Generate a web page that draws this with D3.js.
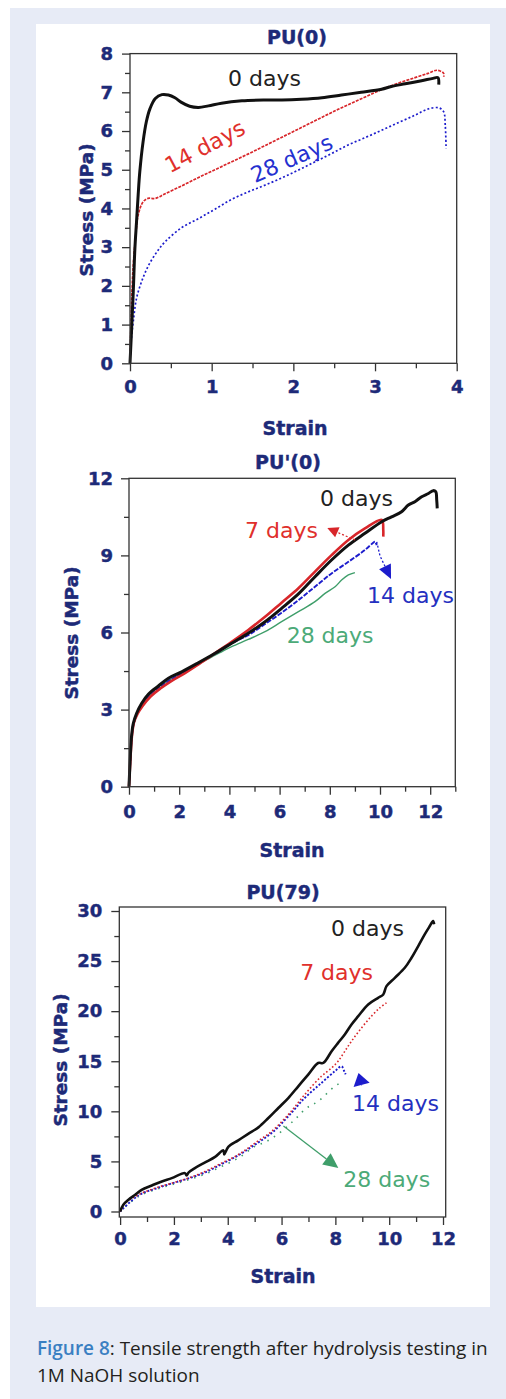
<!DOCTYPE html>
<html lang="en">
<head>
  <meta charset="UTF-8"/>
  <title>Tensile strength after hydrolysis</title>
  <script src="https://d3js.org/d3.v7.min.js"></script>
</head>
<body>
  <svg id="fig" width="506" height="1399"></svg>
<style>
html, body { margin: 0; padding: 0; background: #fff; }
svg { display: block; }
.tick text { font-family: 'DejaVu Sans', sans-serif; font-weight: bold; font-size: 18px; fill: #1d2a78; stroke: #1d2a78; stroke-width: 0.45; }
.tick line { stroke: #333; stroke-width: 1.3; }
.domain { display: none; }
text.title, text.xlabel, text.ylabel { font-family: 'DejaVu Sans', sans-serif; font-weight: bold; fill: #1d2a78; stroke: #1d2a78; stroke-width: 0.45; }
text.title { font-size: 19px; }
text.xlabel { font-size: 19px; }
text.ylabel { font-size: 18.5px; }
text.note { font-family: 'DejaVu Sans', sans-serif; font-size: 22px; }
text.caption { font-family: 'Open Sans', sans-serif; fill: #231f20; }
</style>
<script>
// ---- PU(0) ----
const pu0XTicks = [0, 1, 2, 3, 4];
const pu0XMinor = [0.5, 1.5, 2.5, 3.5];
const pu0YTicks = [0, 1, 2, 3, 4, 5, 6, 7, 8];
const pu0YMinor = [0.5, 1.5, 2.5, 3.5, 4.5, 5.5, 6.5, 7.5];
const pu0Day0 = [[0,0],[0.02,0.9],[0.04,1.85],[0.06,2.97],[0.08,3.66],[0.1,4.35],[0.12,4.95],[0.16,5.72],[0.2,6.24],[0.245,6.58],[0.31,6.84],[0.39,6.94],[0.47,6.93],[0.55,6.86],[0.63,6.74],[0.73,6.64],[0.84,6.61],[0.96,6.65],[1.12,6.72],[1.37,6.78],[1.65,6.8],[1.86,6.8],[2.1,6.82],[2.35,6.86],[2.59,6.93],[2.83,7.0],[3.08,7.08],[3.2,7.15],[3.37,7.22],[3.57,7.3],[3.71,7.36],[3.77,7.38],[3.78,7.2]];
const pu0Day14 = [[0,0],[0.02,1.6],[0.04,2.54],[0.07,3.3],[0.1,3.83],[0.16,4.17],[0.22,4.26],[0.31,4.26],[0.43,4.38],[0.63,4.58],[0.84,4.8],[1.04,5.0],[1.24,5.2],[1.45,5.41],[1.65,5.62],[1.86,5.84],[2.06,6.05],[2.27,6.27],[2.47,6.48],[2.67,6.68],[2.88,6.88],[3.08,7.07],[3.29,7.24],[3.49,7.38],[3.65,7.49],[3.76,7.57],[3.84,7.49],[3.84,7.4]];
const pu0Day28 = [[0,0],[0.01,0.47],[0.04,1.08],[0.08,1.68],[0.14,2.1],[0.22,2.5],[0.33,2.88],[0.43,3.14],[0.63,3.5],[0.84,3.74],[1.04,3.98],[1.24,4.23],[1.45,4.43],[1.65,4.6],[1.86,4.79],[2.06,4.99],[2.27,5.21],[2.47,5.42],[2.67,5.64],[2.88,5.83],[3.08,6.02],[3.29,6.22],[3.49,6.41],[3.65,6.57],[3.78,6.6],[3.84,6.5],[3.86,6.15],[3.87,5.55]];

// ---- PU'(0) ----
const puPXTicks = [0, 2, 4, 6, 8, 10, 12];
const puPXMinor = [1, 3, 5, 7, 9, 11, 13];
const puPYTicks = [0, 3, 6, 9, 12];
const puPYMinor = [1.5, 4.5, 7.5, 10.5];
const puPDay0 = [[0,0],[0.04,0.91],[0.1,1.95],[0.17,2.46],[0.3,2.85],[0.5,3.24],[0.77,3.6],[1.17,3.92],[1.57,4.22],[2.1,4.47],[2.76,4.82],[3.43,5.19],[4.09,5.58],[4.75,5.97],[5.42,6.42],[6.08,6.94],[6.75,7.5],[7.41,8.17],[8.07,8.82],[8.74,9.4],[9.4,9.86],[10.07,10.31],[10.46,10.5],[10.86,10.7],[11.13,10.96],[11.39,11.09],[11.66,11.28],[11.93,11.41],[12.12,11.52],[12.22,11.48],[12.26,11.15],[12.28,10.83]];
const puPDay7 = [[0,0],[0.05,0.95],[0.12,2.0],[0.2,2.5],[0.35,2.85],[0.55,3.15],[0.85,3.5],[1.25,3.82],[1.7,4.12],[2.2,4.4],[2.8,4.78],[3.43,5.2],[4.09,5.64],[4.75,6.1],[5.42,6.61],[6.08,7.16],[6.75,7.72],[7.41,8.37],[8.07,9.01],[8.74,9.6],[9.4,10.05],[10.07,10.38],[10.13,9.99],[10.13,9.73]];
const puPDay14 = [[0,0],[0.05,0.95],[0.12,2.05],[0.2,2.5],[0.35,2.88],[0.55,3.2],[0.85,3.55],[1.25,3.88],[1.7,4.18],[2.2,4.45],[2.8,4.8],[3.43,5.18],[4.09,5.58],[4.75,5.9],[5.42,6.33],[6.08,6.77],[6.75,7.26],[7.41,7.78],[8.07,8.3],[8.74,8.75],[9.4,9.21],[9.73,9.49],[9.8,9.53],[9.87,9.4]];
const puPDay28 = [[0,0],[0.05,1.0],[0.12,2.1],[0.2,2.55],[0.35,2.92],[0.55,3.25],[0.85,3.6],[1.25,3.93],[1.7,4.2],[2.2,4.46],[2.8,4.78],[3.43,5.12],[3.69,5.25],[4.09,5.45],[4.75,5.73],[5.42,6.03],[6.08,6.42],[6.75,6.81],[7.41,7.2],[7.81,7.52],[8.21,7.78],[8.47,8.04],[8.74,8.24],[9.0,8.33]];

// ---- PU(79) ----
const pu79XTicks = [0, 2, 4, 6, 8, 10, 12];
const pu79XMinor = [1, 3, 5, 7, 9, 11];
const pu79YTicks = [0, 5, 10, 15, 20, 25, 30];
const pu79YMinor = [2.5, 7.5, 12.5, 17.5, 22.5, 27.5];
const pu79Day0 = [[0,0],[0.12,0.67],[0.31,1.17],[0.56,1.67],[0.8,2.17],[1.18,2.6],[1.55,3.0],[1.92,3.33],[2.41,3.83],[2.47,3.6],[2.55,3.9],[2.78,4.33],[3.16,4.9],[3.53,5.45],[3.84,6.1],[3.87,5.7],[4.02,6.45],[4.39,7.1],[4.76,7.75],[5.14,8.4],[5.51,9.33],[5.88,10.33],[6.25,11.33],[6.62,12.5],[6.99,13.67],[7.36,14.83],[7.55,14.83],[7.86,16.0],[8.1,16.83],[8.35,17.67],[8.6,18.67],[8.85,19.5],[9.22,20.67],[9.59,21.33],[9.78,21.67],[9.9,22.5],[10.21,23.33],[10.58,24.33],[10.83,25.33],[11.08,26.5],[11.32,27.67],[11.51,28.5],[11.63,29.0],[11.67,28.67]];
const pu79Day7 = [[0,0],[0.19,0.83],[0.68,1.67],[1.3,2.33],[1.92,2.83],[2.54,3.33],[3.16,4.0],[3.77,4.83],[4.39,5.67],[5.01,6.83],[5.63,8.0],[6.25,9.67],[6.86,11.67],[7.48,13.5],[7.86,14.33],[8.1,15.0],[8.35,16.0],[8.6,17.0],[8.97,18.33],[9.34,19.5],[9.65,20.33],[9.9,20.83]];
const pu79Day14 = [[0,0],[0.68,1.6],[1.3,2.27],[1.92,2.8],[2.54,3.3],[3.16,3.9],[3.77,4.73],[4.39,5.6],[5.01,6.67],[5.63,7.83],[6.25,9.5],[6.86,11.33],[7.48,12.83],[7.98,14.0],[8.23,14.5],[8.33,14.0],[8.38,13.7]];
const pu79Day28 = [[0,0],[0.68,1.5],[1.3,2.17],[1.92,2.67],[2.54,3.17],[3.16,3.73],[3.77,4.5],[4.39,5.33],[5.01,6.5],[5.45,7.0],[6.0,8.0],[6.5,9.2],[6.93,10.33],[7.36,11.0],[7.98,12.5],[8.29,13.0]];

const BLACK = '#111', RED = '#d8262a', BLUE = '#1c1ccc', GREEN = '#3f9e6a';

const svg = d3.select('#fig');
svg.append('rect').attr('x', 0).attr('y', 0).attr('width', 506).attr('height', 1399).attr('fill', '#fff');
svg.append('rect').attr('x', 10).attr('y', 8).attr('width', 496).attr('height', 1391).attr('fill', '#e7ebf6');
svg.append('rect').attr('x', 36).attr('y', 24).attr('width', 454).attr('height', 1283).attr('fill', '#fff');

const panels = [
  {
    title: 'PU(0)', titleX: 297, titleY: 44, xLabelX: 295, xLabelY: 435, yLabelX: 86, yLabelY: 210,
    xRange: [130, 456.7], yRange: [363.3, 53.6], xDom: [0, 4], yDom: [0, 8], xPad: 9, yPad: 9,
    xTicks: pu0XTicks, xMinor: pu0XMinor, yTicks: pu0YTicks, yMinor: pu0YMinor,
    series: [
      {data: pu0Day28, color: BLUE, width: 1.7, dash: '2 2.2'},
      {data: pu0Day14, color: RED, width: 1.7, dash: '3 1.2'},
      {data: pu0Day0, color: BLACK, width: 3, dash: null}
    ],
    notes: [
      {text: '0 days', at: [1.2, 7.17], color: '#222', rot: 0},
      {text: '14 days', at: [0.49, 4.9], color: '#e0302c', rot: -28},
      {text: '28 days', at: [1.53, 4.65], color: '#2430d0', rot: -24}
    ],
    arrows: []
  },
  {
    title: "PU'(0)", titleX: 288, titleY: 469, xLabelX: 292, xLabelY: 857, yLabelX: 71, yLabelY: 633,
    xRange: [129, 455.3], yRange: [786.7, 478.3], xDom: [0, 13], yDom: [0, 12], xPad: 10.5, yPad: 8,
    xTicks: puPXTicks, xMinor: puPXMinor, yTicks: puPYTicks, yMinor: puPYMinor,
    series: [
      {data: puPDay28, color: GREEN, width: 1.4, dash: null},
      {data: puPDay14, color: BLUE, width: 1.9, dash: '5 1.5'},
      {data: puPDay7, color: RED, width: 2.6, dash: null},
      {data: puPDay0, color: BLACK, width: 3, dash: null}
    ],
    notes: [
      {text: '0 days', at: [7.61, 10.92], color: '#222', rot: 0},
      {text: '7 days', at: [4.62, 9.67], color: '#e0302c', rot: 0},
      {text: '14 days', at: [9.48, 7.16], color: '#2430c0', rot: 0},
      {text: '28 days', at: [6.28, 5.58], color: '#4caa78', rot: 0}
    ],
    arrows: [
      {pts: [[9.0, 9.6], [7.9, 10.07]], color: RED, len: 11, half: 5.5, dash: '2 2'},
      {pts: [[9.87, 9.53], [10.0, 8.98], [10.44, 8.08]], color: BLUE, len: 14, half: 6.5, dash: '2 2'}
    ]
  },
  {
    title: 'PU(79)', titleX: 283, titleY: 899, xLabelX: 283, xLabelY: 1283, yLabelX: 60, yLabelY: 1060,
    xRange: [119.3, 445.7], yRange: [1217, 907], xDom: [-0.03, 12.1], yDom: [-0.55, 30.4], xPad: 7, yPad: 9,
    xTicks: pu79XTicks, xMinor: pu79XMinor, yTicks: pu79YTicks, yMinor: pu79YMinor,
    series: [
      {data: pu79Day28, color: GREEN, width: 1.6, dash: '1.5 6'},
      {data: pu79Day14, color: BLUE, width: 1.9, dash: '2 1.8'},
      {data: pu79Day7, color: RED, width: 1.6, dash: '1.6 2.2'},
      {data: pu79Day0, color: BLACK, width: 2.6, dash: null}
    ],
    notes: [
      {text: '0 days', at: [7.84, 27.47], color: '#222', rot: 0},
      {text: '7 days', at: [6.69, 23.13], color: '#e0302c', rot: 0},
      {text: '14 days', at: [8.62, 10.0], color: '#2430c0', rot: 0},
      {text: '28 days', at: [8.29, 2.42], color: '#4caa78', rot: 0}
    ],
    arrows: [
      {pts: [[6.07, 8.53], [8.11, 4.34]], color: GREEN, len: 15, half: 7, dash: null},
      {pts: [[8.98, 12.6], [8.86, 13.83]], color: BLUE, len: 12.3, half: 8.3, dash: null}
    ]
  }
];

function drawArrow(g, pts, color, len, half, dash) {
  const n = pts.length;
  const tip = pts[n - 1], prev = pts[n - 2];
  const ang = Math.atan2(tip[1] - prev[1], tip[0] - prev[0]);
  const base = [tip[0] - len * Math.cos(ang), tip[1] - len * Math.sin(ang)];
  const shaft = pts.slice(0, n - 1).concat([base]);
  g.append('path')
    .attr('d', d3.line()(shaft))
    .attr('fill', 'none').attr('stroke', color).attr('stroke-width', 1.3)
    .attr('stroke-dasharray', dash);
  const nx = -Math.sin(ang), ny = Math.cos(ang);
  g.append('path')
    .attr('d', d3.line()([tip, [base[0] + half * nx, base[1] + half * ny], [base[0] - half * nx, base[1] - half * ny]]) + 'Z')
    .attr('fill', color);
}

panels.forEach(p => {
  const x = d3.scaleLinear().domain(p.xDom).range(p.xRange);
  const y = d3.scaleLinear().domain(p.yDom).range(p.yRange);
  const g = svg.append('g');

  const line = d3.line().x(d => x(d[0])).y(d => y(d[1])).curve(d3.curveCatmullRom.alpha(0.5));
  p.series.forEach(s => {
    g.append('path')
      .attr('d', line(s.data))
      .attr('fill', 'none')
      .attr('stroke', s.color)
      .attr('stroke-width', s.width)
      .attr('stroke-linejoin', 'round')
      .attr('stroke-dasharray', s.dash);
  });

  // frame
  g.append('rect')
    .attr('x', p.xRange[0]).attr('y', p.yRange[1])
    .attr('width', p.xRange[1] - p.xRange[0]).attr('height', p.yRange[0] - p.yRange[1])
    .attr('fill', 'none').attr('stroke', '#333').attr('stroke-width', 1.3);

  // axes
  g.append('g').attr('transform', `translate(0,${p.yRange[0]})`)
    .call(d3.axisBottom(x).tickValues(p.xTicks).tickSize(8).tickPadding(p.xPad).tickFormat(d3.format('d')));
  g.append('g').attr('transform', `translate(0,${p.yRange[0]})`)
    .call(d3.axisBottom(x).tickValues(p.xMinor).tickSize(5).tickFormat(''));
  g.append('g').attr('transform', `translate(${p.xRange[0]},0)`)
    .call(d3.axisLeft(y).tickValues(p.yTicks).tickSize(8).tickPadding(p.yPad).tickFormat(d3.format('d')));
  g.append('g').attr('transform', `translate(${p.xRange[0]},0)`)
    .call(d3.axisLeft(y).tickValues(p.yMinor).tickSize(5).tickFormat(''));

  g.append('text').attr('class', 'title').attr('x', p.titleX).attr('y', p.titleY)
    .attr('text-anchor', 'middle').text(p.title);
  g.append('text').attr('class', 'xlabel').attr('x', p.xLabelX).attr('y', p.xLabelY)
    .attr('text-anchor', 'middle').text('Strain');
  g.append('text').attr('class', 'ylabel')
    .attr('transform', `translate(${p.yLabelX},${p.yLabelY}) rotate(-90)`)
    .attr('text-anchor', 'middle').attr('dy', '0.36em').text('Stress (MPa)');

  p.notes.forEach(n => {
    g.append('text').attr('class', 'note')
      .attr('transform', `translate(${x(n.at[0])},${y(n.at[1])}) rotate(${n.rot})`)
      .attr('fill', n.color).text(n.text);
  });

  p.arrows.forEach(a => {
    drawArrow(g, a.pts.map(d => [x(d[0]), y(d[1])]), a.color, a.len, a.half, a.dash);
  });
});

// caption
const cap = svg.append('text').attr('class', 'caption').attr('x', 37).attr('y', 1355).attr('font-size', 18);
cap.append('tspan').attr('fill', '#3a7fc2').attr('font-weight', 600).text('Figure 8');
cap.append('tspan').text(': Tensile strength after hydrolysis testing in');
const cap2 = svg.append('text').attr('class', 'caption').attr('x', 37).attr('y', 1381.5).attr('font-size', 18)
  .text('1M NaOH solution');
const w = cap.node().getComputedTextLength();
const fs = 18 * 451 / w;
cap.attr('font-size', fs);
cap2.attr('font-size', fs);
</script>
</body>
</html>
